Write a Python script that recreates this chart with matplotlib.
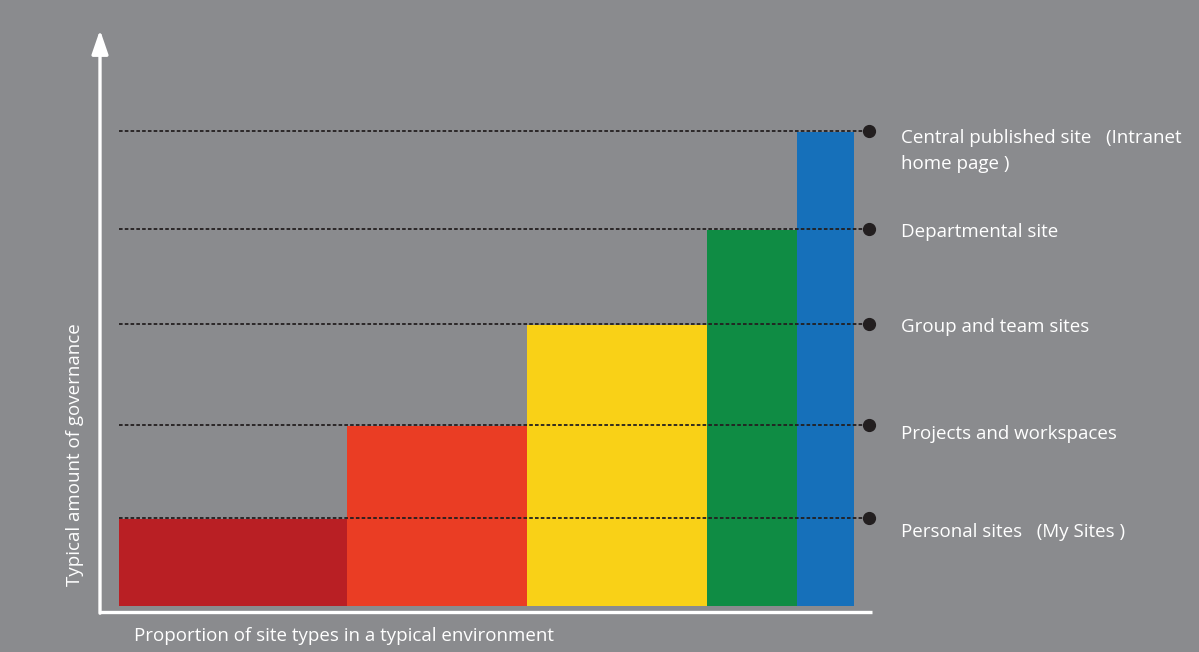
import matplotlib.pyplot as plt
import numpy as np

plt.rcParams['font.family'] = ['Open Sans', 'DejaVu Sans']

# site types, their share of the environment and typical governance level
site_types = ["Personal sites   (My Sites )",
              "Projects and workspaces",
              "Group and team sites",
              "Departmental site",
              "Central published site   (Intranet\nhome page )"]
proportion = [31.0, 24.5, 24.5, 12.2, 7.8]
governance = [0.87, 1.80, 2.81, 3.76, 4.74]
colors = ['#b91f24', '#ea3d24', '#f9d117', '#0f8c44', '#1670ba']

bg = '#8a8b8e'
fig = plt.figure(figsize=(11.99, 6.52), dpi=100, facecolor=bg)
ax = fig.add_axes([0, 0, 1, 1])
ax.set_facecolor(bg)
ax.set_xlim(-119 / 7.35, (1199 - 119) / 7.35)
ax.set_ylim(-0.46, 6.06)
ax.axis('off')

lefts = np.concatenate([[0], np.cumsum(proportion)[:-1]])
ax.bar(lefts, governance, width=proportion, align='edge', color=colors,
       linewidth=0, zorder=2)

# dotted guide lines with end dots and labels
x_end = 102.0
label_off = [-0.13, -0.08, -0.02, -0.02, -0.04]
for g, name, off in zip(governance, site_types, label_off):
    ax.plot([0, x_end], [g + 0.01, g + 0.01], color='#231f20', lw=1.3,
            dashes=(2.0, 1.2), zorder=3)
    ax.plot(x_end, g + 0.01, 'o', color='#231f20', markersize=8.5, zorder=4)
    va = 'top' if '\n' in name else 'center'
    yy = g + off + (0.07 if '\n' in name else 0)
    ax.text(106.4, yy, name, color='white', fontsize=13.5, va=va, ha='left',
            linespacing=1.6, zorder=5)

# axes with arrow
x_ax = -19 / 7.35
ax.plot([x_ax, 102.45], [-0.06, -0.06], color='white', lw=2.4,
        solid_capstyle='butt', zorder=3)
ax.annotate('', xy=(x_ax, 5.76), xytext=(x_ax, -0.072),
            arrowprops=dict(arrowstyle='-|>,head_length=1.45,head_width=0.5',
                            color='white', lw=2.4, shrinkA=0, shrinkB=0))

ax.text(-6.0, 1.51, "Typical amount of governance", color='white',
        fontsize=13.5, rotation=90, ha='center', va='center')
ax.text(2.0, -0.30, "Proportion of site types in a typical environment",
        color='white', fontsize=13.5, ha='left', va='center')

plt.savefig('out.png', dpi=100, facecolor=bg)
